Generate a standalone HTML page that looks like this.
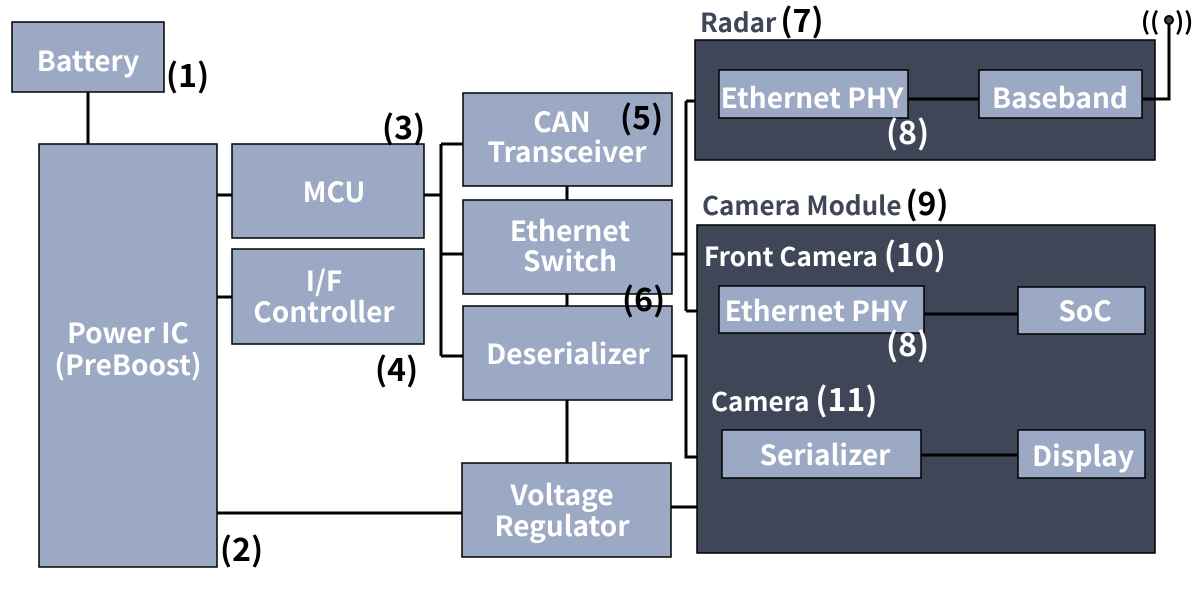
<!DOCTYPE html>
<html><head><style>
html,body{margin:0;padding:0;background:#fff;}
svg{display:block;}
text{font-family:"Noto Sans CJK JP","Liberation Sans",sans-serif;font-weight:bold;}
.b{fill:#9BA9C4;stroke:#000;stroke-width:1.5;}
.d{fill:#3E4658;stroke:#000;stroke-width:1.5;}
.l{stroke:#000;stroke-width:3;fill:none;}
.w{fill:#fff;font-size:28px;text-anchor:middle;}
.k{fill:#000;font-size:32px;}
.g{fill:#3E4658;font-size:26px;}
.h{fill:#fff;font-size:26px;}
</style></head><body>
<svg width="1200" height="600" xmlns="http://www.w3.org/2000/svg">
<path class="l" d="M88 92V144 M217 195H232 M217 297H232 M217 513H462 M424 195H441 M441 144V356 M441 144H463 M441 254H463 M441 356H463 M567 186V200 M567 294V306 M567 400V463 M672 254H686 M686 101V311 M686 101H695 M686 311H719 M672 356H686V457H722 M671 507H697"/>
<rect class="d" x="695" y="40" width="460" height="120"/>
<rect class="d" x="697" y="225" width="458" height="328"/>
<path class="l" d="M908 99H979 M1142 99H1169V24 M924 314H1018 M921 455H1018"/>
<circle cx="1169" cy="20" r="4" fill="#3E4658" stroke="#000" stroke-width="2"/>
<text x="1141" y="30" class="k" style="font-size:24px">((</text>
<text x="1175" y="30" class="k" style="font-size:24px">))</text>
<rect class="b" x="12" y="22" width="152" height="70"/>
<text class="w" x="88" y="71">Battery</text>
<rect class="b" x="39" y="144" width="178" height="423"/>
<text class="w" x="128" y="343">Power IC</text>
<text class="w" x="128" y="375">(PreBoost)</text>
<rect class="b" x="232" y="144" width="192" height="94"/>
<text class="w" x="334" y="202">MCU</text>
<rect class="b" x="232" y="249" width="192" height="95"/>
<text class="w" x="324" y="291">I/F</text>
<text class="w" x="324" y="322">Controller</text>
<rect class="b" x="463" y="93" width="209" height="93"/>
<text class="w" x="562" y="132">CAN</text>
<text class="w" x="567" y="162">Transceiver</text>
<rect class="b" x="463" y="200" width="209" height="94"/>
<text class="w" x="570" y="241">Ethernet</text>
<text class="w" x="570" y="271">Switch</text>
<rect class="b" x="463" y="306" width="209" height="94"/>
<text class="w" x="568" y="364">Deserializer</text>
<rect class="b" x="462" y="463" width="209" height="94"/>
<text class="w" x="562" y="505">Voltage</text>
<text class="w" x="562" y="536">Regulator</text>
<rect class="b" x="719" y="70" width="189" height="48"/>
<text class="w" x="812" y="108">Ethernet PHY</text>
<rect class="b" x="979" y="70" width="163" height="48"/>
<text class="w" x="1060" y="108">Baseband</text>
<rect class="b" x="719" y="286" width="205" height="47"/>
<text class="w" x="816" y="321">Ethernet PHY</text>
<rect class="b" x="1018" y="287" width="127" height="47"/>
<text class="w" x="1085" y="321">SoC</text>
<rect class="b" x="722" y="430" width="199" height="48"/>
<text class="w" x="825" y="465">Serializer</text>
<rect class="b" x="1018" y="430" width="127" height="48"/>
<text class="w" x="1083" y="466">Display</text>
<text class="k" x="166" y="87">(1)</text>
<text class="k" x="220" y="561">(2)</text>
<text class="k" x="382" y="139">(3)</text>
<text class="k" x="375" y="381">(4)</text>
<text class="k" x="620" y="129">(5)</text>
<text class="k" x="622" y="311">(6)</text>
<text class="g" x="700" y="32">Radar<tspan class="k" fill="#000" dx="4">(7)</tspan></text>
<text class="h" x="886" y="144" style="font-size:32px">(8)</text>
<text class="g" x="702" y="215">Camera Module<tspan fill="#000" style="font-size:32px" dx="4">(9)</tspan></text>
<text class="h" x="704" y="266">Front Camera <tspan style="font-size:32px">(10)</tspan></text>
<text class="h" x="886" y="356" style="font-size:32px">(8)</text>
<text class="h" x="711" y="411">Camera <tspan style="font-size:32px">(11)</tspan></text>
</svg>
</body></html>
